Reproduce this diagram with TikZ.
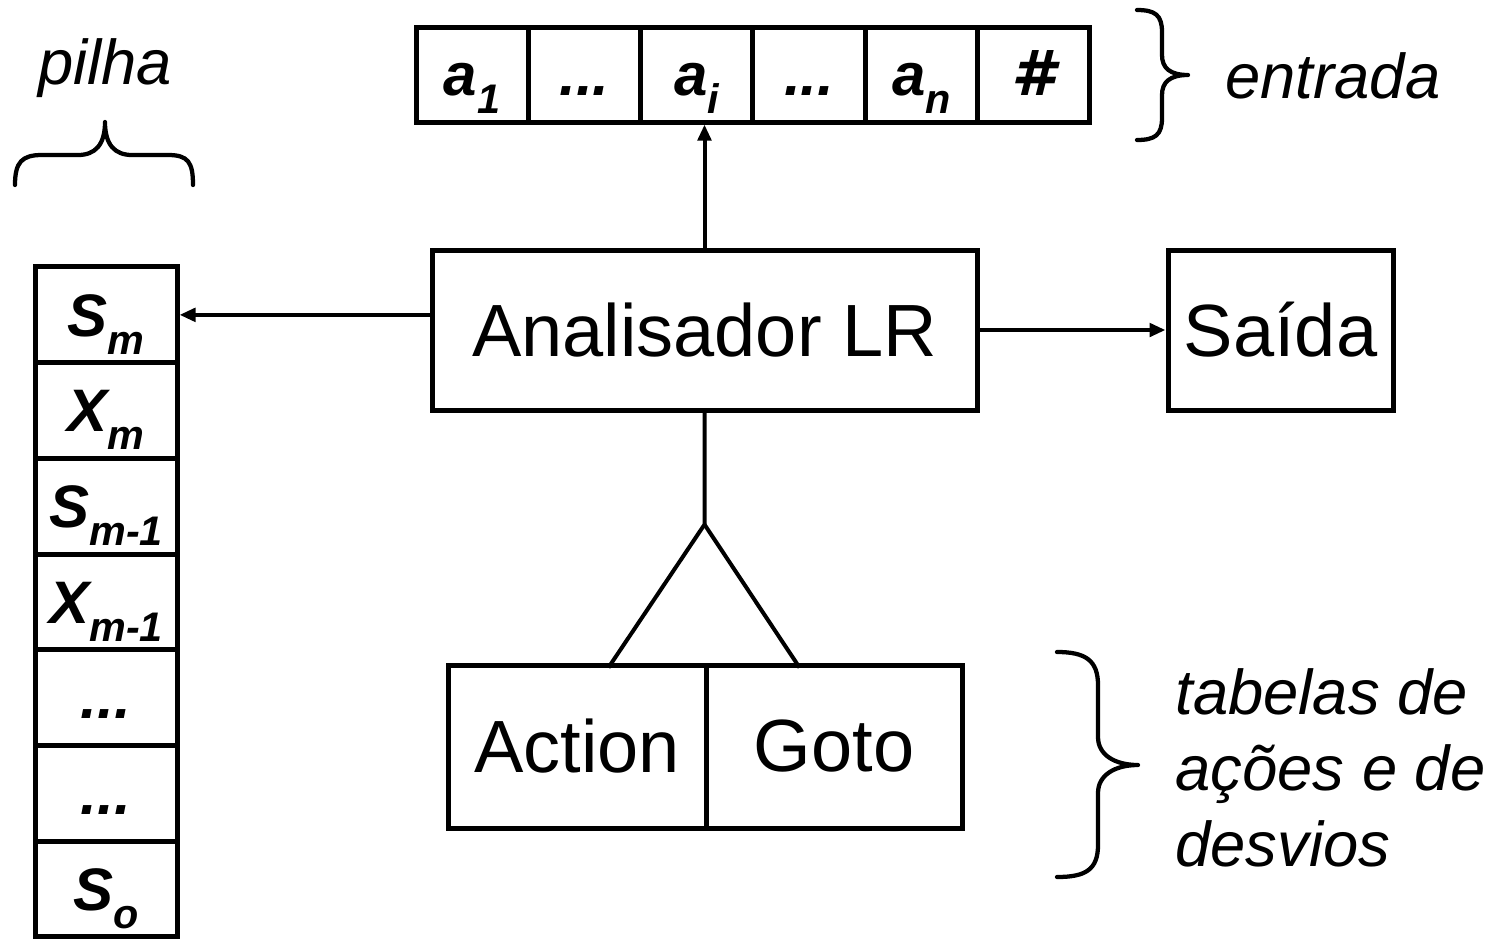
\documentclass[tikz,border=0pt]{standalone}
\usepackage{fontspec}
\setmainfont{Liberation Sans}
\newfontfamily\hashfont{DejaVu Sans}
\usetikzlibrary{arrows.meta,calc}

\newcommand{\sym}[2]{#1\raisebox{-0.3em}{\fontsize{31}{31}\selectfont #2}}
\newcommand{\skipdots}{...}

\tikzset{every picture/.style={line width=0.75pt}}
\tikzset{
  box/.style={draw, line width=3.75pt, minimum height=120pt, inner sep=0pt, font=\fontsize{55.5}{66}\selectfont},
  tapecell/.style={draw, line width=3.75pt, minimum width=84.2pt, minimum height=71.25pt, text height=32pt, text depth=0pt, inner sep=0pt, font=\fontsize{45}{50}\selectfont\bfseries\itshape},
  stackcell/.style={tapecell, minimum width=106.5pt, minimum height=71.8pt},
  link/.style={line width=3pt},
  ptr/.style={link, -{Triangle[length=12pt,width=10pt]}},
  curly/.style={line width=3.2pt, line cap=round, line join=round},
  note/.style={font=\fontsize{47.5}{57}\selectfont\itshape, inner sep=0pt}
}

\begin{document}
\begin{tikzpicture}[x=0.75pt,y=0.75pt,yscale=-1,xscale=1]
\useasboundingbox (0,0) rectangle (1503,940);

%Shape: Tape [input]
\foreach \lbl [count=\i] in {{\sym{a}{1}},\skipdots,{\sym{a}{i}},\skipdots,{\sym{a}{n}},{{\hashfont\fontsize{47}{50}\selectfont\bfseries\itshape\#}}}
  \node [tapecell] (in\i) at ({359.85+112.3*\i},74.5) {\lbl};

%Shape: Stack [pilha]
\foreach \lbl [count=\i] in {{\sym{S}{m}},{\sym{X}{m}},{\sym{S}{m-1}},{\sym{X}{m-1}},\skipdots,\skipdots,{\sym{S}{o}}}
  \node [stackcell] (st\i) at (106,{219.15+95.7*\i}) {\lbl};

%Shape: Rectangle [analisador]
\node [box, minimum width=408.75pt] (lr) at (704.5,330) {Analisador LR};
%Shape: Rectangle [saida]
\node [box, minimum width=168.75pt] (out) at (1280.5,330) {Saída};
%Shape: Rectangle [tabelas]
\node [box, minimum width=193.5pt, minimum height=122.25pt] (action) at (577,746.5) {Action};
\node [box, minimum width=192pt, minimum height=122.25pt] (goto) at (834,746.5) {Goto};

%Straight Lines [arrows]
\draw [ptr] (lr.north) -- (lr.north |- in3.south);
\draw [ptr] (lr.west |- st1.east) -- (st1.east);
\draw [ptr] (lr.east) -- (out.west);

%Straight Lines [fork]
\coordinate (fork) at ($(lr.south)+(0,112)$);
\coordinate (forkL) at ($(fork)+(-96,143)$);
\coordinate (forkR) at ($(fork)+(95,143)$);
\draw [link, line join=miter] (lr.south) -- (fork) -- (forkL);
\draw [link] (fork) -- (forkR);

%Shape: Brace [entrada]
\draw [curly] (1137,10) .. controls (1155,10) and (1162,15) .. (1162,32) -- (1162,55)
  .. controls (1162,68) and (1170,75) .. (1188,75) .. controls (1170,75) and (1162,82) .. (1162,95)
  -- (1162,118) .. controls (1162,135) and (1155,140) .. (1137,140);
%Shape: Brace [pilha]
\draw [curly] (15,185) .. controls (15,162) and (22,155) .. (42,155) -- (78,155)
  .. controls (95,155) and (105,145) .. (105,122) .. controls (105,145) and (115,155) .. (132,155)
  -- (168,155) .. controls (188,155) and (193,162) .. (193,185);
%Shape: Brace [tabelas]
\draw [curly] (1057,652) .. controls (1085,652) and (1098,660) .. (1098,685) -- (1098,737)
  .. controls (1098,755) and (1115,765) .. (1138,765) .. controls (1115,765) and (1098,775) .. (1098,793)
  -- (1098,845) .. controls (1098,870) and (1085,877) .. (1057,877);

% Text Node
\node [note, anchor=base] (pilha) at (105,84) {pilha};
% Text Node
\node [note, anchor=base west] (entrada) at (1225,98) {entrada};
% Text Node
\node [note, anchor=north west, align=left] (tabelas) at (1175,668) {tabelas de\\ações e de\\desvios};

\end{tikzpicture}
\end{document}
